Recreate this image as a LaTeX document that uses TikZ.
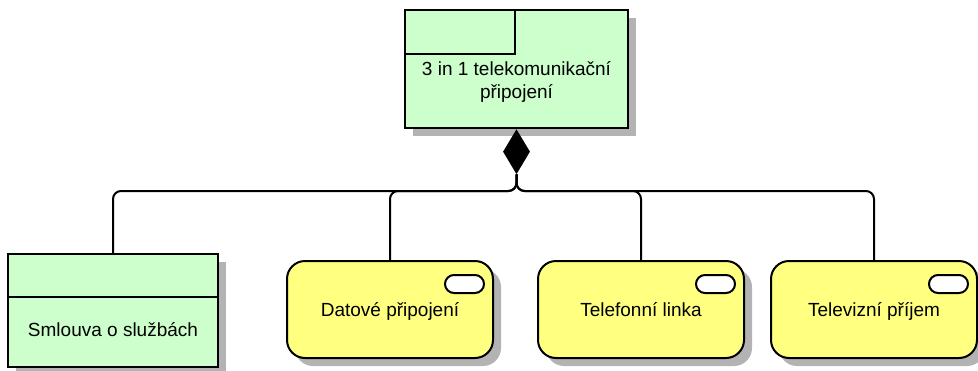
\documentclass[tikz,border=0pt]{standalone}
\usepackage{fontspec}
\setmainfont{Liberation Sans}
\usepackage{tikz}
\usetikzlibrary{calc,positioning,shapes.geometric,shadows}
\definecolor{objgreen}{HTML}{CCFFCC}
\definecolor{srvyellow}{HTML}{FFFF80}
\definecolor{shadowgray}{HTML}{B3B3B3}

\begin{document}
\begin{tikzpicture}[x=1pt, y=-1pt,
  every node/.style={font=\fontsize{19}{23}\selectfont},
  boxshadow/.style={drop shadow={shadow xshift=8pt, shadow yshift=-8pt, fill=shadowgray, opacity=1}},
  dataobj/.style={draw, line width=2pt, fill=objgreen, minimum width=210pt, minimum height=113pt, inner sep=0pt, boxshadow},
  objtab/.style={draw, line width=2pt, minimum width=110pt, minimum height=44pt, inner sep=0pt},
  service/.style={draw, line width=2pt, fill=srvyellow, rounded corners=18pt, minimum width=206pt, minimum height=97pt, text height=15pt, text depth=1pt, boxshadow},
  pill/.style={draw, line width=2pt, fill=white, rounded corners=9pt, minimum width=39pt, minimum height=18pt, inner sep=0pt},
  compose/.style={diamond, fill=black, minimum width=27pt, minimum height=45pt, inner sep=0pt},
  link/.style={line width=2pt, rounded corners=8pt}
]
  \useasboundingbox (0,0) rectangle (978,370);

  \node[dataobj, minimum width=223pt, minimum height=118pt] (conn) at (516.5,69) {};
  \node[objtab, anchor=north west] (conntab) at (conn.north west) {};
  \node[align=center] (connlbl) at (516.5,82) {3 in 1 telekomunikační\\připojení};
  \node[compose, anchor=north] (hub) at (conn.south) {};

  \node[dataobj] (contract) at (113,310.5) {};
  \draw[line width=2pt] ($(contract.north west)+(0,44)$) -- ($(contract.north east)+(0,44)$);
  \node (contractlbl) at (113,330) {Smlouva o službách};

  \node[service] (data) at (390,309.5) {Datové připojení};
  \node[service] (phone) at (641,309.5) {Telefonní linka};
  \node[service] (tv) at (874,309.5) {Televizní příjem};

  \foreach \srv in {data,phone,tv}
    \node[pill, anchor=north east] at ($(\srv.north east)+(-9,14)$) {};

  \coordinate (bus) at (517,191);
  \foreach \child in {contract,data,phone,tv}
    \draw[link] (hub.south) |- (\child.north |- bus) -- (\child.north);
\end{tikzpicture}
\end{document}
